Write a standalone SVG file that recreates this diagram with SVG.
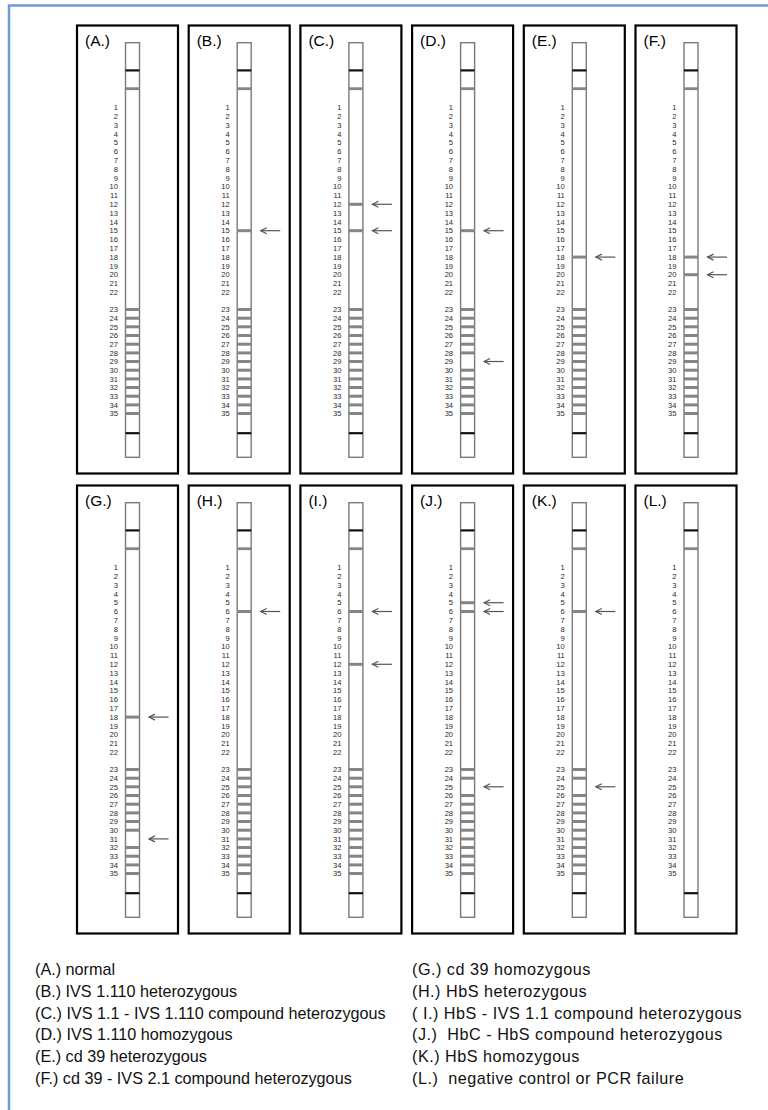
<svg xmlns="http://www.w3.org/2000/svg" xmlns:xlink="http://www.w3.org/1999/xlink" width="768" height="1110" viewBox="0 0 768 1110">
<style>
.frame{fill:none;stroke:#000;stroke-width:2.2}
.strip{fill:#fff;stroke:#7a7a7a;stroke-width:1.4}
.ctl{fill:#111}
.band{fill:#858585}
.num{font-family:"Liberation Sans",Arial,sans-serif;font-size:7.6px;fill:#2a2a2a;text-anchor:end}
.lbl{font-family:"Liberation Sans",Arial,sans-serif;font-size:15.5px;fill:#000}
.leg{font-family:"Liberation Sans",Arial,sans-serif;font-size:16.2px;fill:#111}
.legR{letter-spacing:0.5px}
.arr line,.arr polyline{fill:none;stroke:#555;stroke-width:1.2}
</style>
<defs>
<rect id="b" class="band" x="48.5" y="-1.5" width="14" height="3"/>
<g id="arr" class="arr"><line x1="72" y1="0" x2="91.5" y2="0"/><polyline points="78,-3 72,0 78,3"/></g>
<g id="base">
<rect class="strip" x="48.5" y="17.2" width="14" height="414.6"/>
<rect class="ctl" x="48.5" y="43.8" width="14" height="2.2"/>
<rect class="band" x="48.5" y="61.8" width="14" height="2.8"/>
<rect class="ctl" x="48.5" y="406.6" width="14" height="2.2"/>
<g class="num">
<text x="41" y="84.7">1</text><text x="41" y="93.5">2</text><text x="41" y="102.3">3</text><text x="41" y="111.1">4</text><text x="41" y="119.9">5</text><text x="41" y="128.7">6</text><text x="41" y="137.5">7</text><text x="41" y="146.3">8</text><text x="41" y="155.1">9</text><text x="41" y="163.9">10</text><text x="41" y="172.7">11</text><text x="41" y="181.5">12</text><text x="41" y="190.3">13</text><text x="41" y="199.1">14</text><text x="41" y="207.9">15</text><text x="41" y="216.7">16</text><text x="41" y="225.5">17</text><text x="41" y="234.3">18</text><text x="41" y="243.1">19</text><text x="41" y="251.9">20</text><text x="41" y="260.7">21</text><text x="41" y="269.5">22</text>
<text x="41" y="286.7">23</text><text x="41" y="295.4">24</text><text x="41" y="304">25</text><text x="41" y="312.7">26</text><text x="41" y="321.4">27</text><text x="41" y="330.1">28</text><text x="41" y="338.7">29</text><text x="41" y="347.4">30</text><text x="41" y="356.1">31</text><text x="41" y="364.7">32</text><text x="41" y="373.4">33</text><text x="41" y="382.1">34</text><text x="41" y="390.7">35</text>
</g>
</g>
<g id="w23"><use xlink:href="#b" y="284"/></g>
<g id="w24"><use xlink:href="#b" y="292.7"/></g>
<g id="w25"><use xlink:href="#b" y="301.3"/></g>
<g id="w26"><use xlink:href="#b" y="310"/></g>
<g id="w27"><use xlink:href="#b" y="318.7"/></g>
<g id="w28"><use xlink:href="#b" y="327.4"/></g>
<g id="w29"><use xlink:href="#b" y="336"/></g>
<g id="w30"><use xlink:href="#b" y="344.7"/></g>
<g id="w31"><use xlink:href="#b" y="353.4"/></g>
<g id="w32"><use xlink:href="#b" y="362"/></g>
<g id="w33"><use xlink:href="#b" y="370.7"/></g>
<g id="w34"><use xlink:href="#b" y="379.4"/></g>
<g id="w35"><use xlink:href="#b" y="388"/></g>
<g id="wtAll"><use xlink:href="#w23"/><use xlink:href="#w24"/><use xlink:href="#w25"/><use xlink:href="#w26"/><use xlink:href="#w27"/><use xlink:href="#w28"/><use xlink:href="#w29"/><use xlink:href="#w30"/><use xlink:href="#w31"/><use xlink:href="#w32"/><use xlink:href="#w33"/><use xlink:href="#w34"/><use xlink:href="#w35"/></g>
</defs>
<rect width="768" height="1110" fill="#fff"/>
<path d="M9,1110 V5.5 H768" fill="none" stroke="#6f9bd4" stroke-width="2.5"/>

<g id="panelA" transform="translate(77,25.5)">
<rect class="frame" width="101" height="448"/><text class="lbl" x="8" y="20">(A.)</text>
<use xlink:href="#base"/><use xlink:href="#wtAll"/>
</g>
<g id="panelB" transform="translate(188.7,25.5)">
<rect class="frame" width="101" height="448"/><text class="lbl" x="8" y="20">(B.)</text>
<use xlink:href="#base"/><use xlink:href="#wtAll"/>
<use xlink:href="#b" y="205.2"/>
</g>
<g id="panelC" transform="translate(300.4,25.5)">
<rect class="frame" width="101" height="448"/><text class="lbl" x="8" y="20">(C.)</text>
<use xlink:href="#base"/><use xlink:href="#wtAll"/>
<use xlink:href="#b" y="178.8"/><use xlink:href="#b" y="205.2"/>
</g>
<g id="panelD" transform="translate(412.1,25.5)">
<rect class="frame" width="101" height="448"/><text class="lbl" x="8" y="20">(D.)</text>
<use xlink:href="#base"/>
<use xlink:href="#w23"/><use xlink:href="#w24"/><use xlink:href="#w25"/><use xlink:href="#w26"/><use xlink:href="#w27"/><use xlink:href="#w28"/><use xlink:href="#w30"/><use xlink:href="#w31"/><use xlink:href="#w32"/><use xlink:href="#w33"/><use xlink:href="#w34"/><use xlink:href="#w35"/>
<use xlink:href="#b" y="205.2"/>
</g>
<g id="panelE" transform="translate(523.8,25.5)">
<rect class="frame" width="101" height="448"/><text class="lbl" x="8" y="20">(E.)</text>
<use xlink:href="#base"/><use xlink:href="#wtAll"/>
<use xlink:href="#b" y="231.6"/>
</g>
<g id="panelF" transform="translate(635.5,25.5)">
<rect class="frame" width="101" height="448"/><text class="lbl" x="8" y="20">(F.)</text>
<use xlink:href="#base"/><use xlink:href="#wtAll"/>
<use xlink:href="#b" y="231.6"/><use xlink:href="#b" y="249.2"/>
</g>

<g id="panelG" transform="translate(77,485.5)">
<rect class="frame" width="101" height="448"/><text class="lbl" x="8" y="20">(G.)</text>
<use xlink:href="#base"/>
<use xlink:href="#w23"/><use xlink:href="#w24"/><use xlink:href="#w25"/><use xlink:href="#w26"/><use xlink:href="#w27"/><use xlink:href="#w28"/><use xlink:href="#w29"/><use xlink:href="#w30"/><use xlink:href="#w32"/><use xlink:href="#w33"/><use xlink:href="#w34"/><use xlink:href="#w35"/>
<use xlink:href="#b" y="231.6"/>
</g>
<g id="panelH" transform="translate(188.7,485.5)">
<rect class="frame" width="101" height="448"/><text class="lbl" x="8" y="20">(H.)</text>
<use xlink:href="#base"/><use xlink:href="#wtAll"/>
<use xlink:href="#b" y="126"/>
</g>
<g id="panelI" transform="translate(300.4,485.5)">
<rect class="frame" width="101" height="448"/><text class="lbl" x="8" y="20">(I.)</text>
<use xlink:href="#base"/><use xlink:href="#wtAll"/>
<use xlink:href="#b" y="126"/><use xlink:href="#b" y="178.8"/>
</g>
<g id="panelJ" transform="translate(412.1,485.5)">
<rect class="frame" width="101" height="448"/><text class="lbl" x="8" y="20">(J.)</text>
<use xlink:href="#base"/>
<use xlink:href="#w23"/><use xlink:href="#w24"/><use xlink:href="#w26"/><use xlink:href="#w27"/><use xlink:href="#w28"/><use xlink:href="#w29"/><use xlink:href="#w30"/><use xlink:href="#w31"/><use xlink:href="#w32"/><use xlink:href="#w33"/><use xlink:href="#w34"/><use xlink:href="#w35"/>
<use xlink:href="#b" y="117.2"/><use xlink:href="#b" y="126"/>
</g>
<g id="panelK" transform="translate(523.8,485.5)">
<rect class="frame" width="101" height="448"/><text class="lbl" x="8" y="20">(K.)</text>
<use xlink:href="#base"/>
<use xlink:href="#w23"/><use xlink:href="#w24"/><use xlink:href="#w26"/><use xlink:href="#w27"/><use xlink:href="#w28"/><use xlink:href="#w29"/><use xlink:href="#w30"/><use xlink:href="#w31"/><use xlink:href="#w32"/><use xlink:href="#w33"/><use xlink:href="#w34"/><use xlink:href="#w35"/>
<use xlink:href="#b" y="126"/>
</g>
<g id="panelL" transform="translate(635.5,485.5)">
<rect class="frame" width="101" height="448"/><text class="lbl" x="8" y="20">(L.)</text>
<use xlink:href="#base"/>
</g>

<g id="connectors">
<g transform="translate(188.7,25.5)"><use xlink:href="#arr" y="205.2"/></g>
<g transform="translate(300.4,25.5)"><use xlink:href="#arr" y="178.8"/><use xlink:href="#arr" y="205.2"/></g>
<g transform="translate(412.1,25.5)"><use xlink:href="#arr" y="205.2"/><use xlink:href="#arr" y="336"/></g>
<g transform="translate(523.8,25.5)"><use xlink:href="#arr" y="231.6"/></g>
<g transform="translate(635.5,25.5)"><use xlink:href="#arr" y="231.6"/><use xlink:href="#arr" y="249.2"/></g>
<g transform="translate(77,485.5)"><use xlink:href="#arr" y="231.6"/><use xlink:href="#arr" y="353.4"/></g>
<g transform="translate(188.7,485.5)"><use xlink:href="#arr" y="126"/></g>
<g transform="translate(300.4,485.5)"><use xlink:href="#arr" y="126"/><use xlink:href="#arr" y="178.8"/></g>
<g transform="translate(412.1,485.5)"><use xlink:href="#arr" y="117.2"/><use xlink:href="#arr" y="126"/><use xlink:href="#arr" y="301.3"/></g>
<g transform="translate(523.8,485.5)"><use xlink:href="#arr" y="126"/><use xlink:href="#arr" y="301.3"/></g>
</g>

<g id="legend" class="leg">
<text x="35" y="975">(A.) normal</text>
<text x="35" y="996.8">(B.) IVS 1.110 heterozygous</text>
<text x="35" y="1018.6">(C.) IVS 1.1 - IVS 1.110 compound heterozygous</text>
<text x="35" y="1040.4">(D.) IVS 1.110 homozygous</text>
<text x="35" y="1062.2">(E.) cd 39 heterozygous</text>
<text x="35" y="1084">(F.) cd 39 - IVS 2.1 compound heterozygous</text>
<g class="legR">
<text x="412" y="975">(G.) cd 39 homozygous</text>
<text x="412" y="996.8">(H.) HbS heterozygous</text>
<text x="412" y="1018.6">( I.) HbS - IVS 1.1 compound heterozygous</text>
<text x="412" y="1040.4" xml:space="preserve">(J.)  HbC - HbS compound heterozygous</text>
<text x="412" y="1062.2">(K.) HbS homozygous</text>
<text x="412" y="1084" xml:space="preserve">(L.)  negative control or PCR failure</text>
</g>
</g>
</svg>
